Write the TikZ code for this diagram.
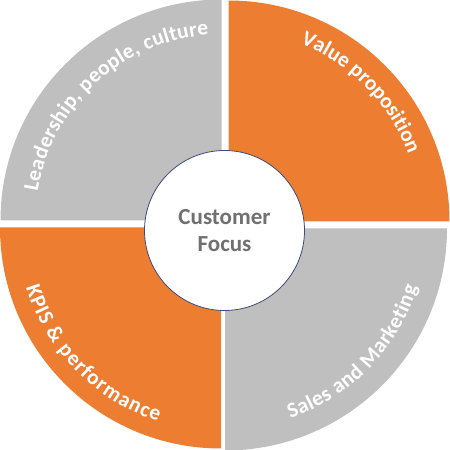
\documentclass[tikz,border=0pt]{standalone}
\usepackage{fontspec}
\setmainfont{Carlito}
\usetikzlibrary{decorations.text}
\definecolor{secorange}{RGB}{237,125,49}
\definecolor{secgray}{RGB}{191,191,191}
\definecolor{focusline}{RGB}{60,75,120}
\definecolor{focustext}{RGB}{112,112,112}
\tikzset{
  orangesec/.style={fill=secorange},
  graysec/.style={fill=secgray},
  arclabel/.style={decorate, decoration={text along path, text align={fit to path},
     text={|\fontsize{21.5}{25}\selectfont\bfseries\color{white}|#1}}},
  focusnode/.style={circle, draw=focusline, line width=0.8pt, fill=white,
     minimum size=160pt, inner sep=0pt, align=center, text=focustext,
     font=\fontsize{23}{27}\selectfont\bfseries}
}
\begin{document}
\begin{tikzpicture}[x=1pt,y=1pt]
\useasboundingbox (0,0) rectangle (450,450);
% top-left
\begin{scope}[shift={(221.5,229.5)}]
  \fill[graysec] (-221,0) arc[start angle=180,end angle=90,radius=221pt] -- (0,0) -- cycle;
  \path[arclabel={Leadership, people, culture}] (171:186pt) arc[start angle=171,end angle=94,radius=186pt];
\end{scope}
% top-right
\begin{scope}[shift={(228.5,228.5)}]
  \fill[orangesec] (221,0) arc[start angle=0,end angle=90,radius=221pt] -- (0,0) -- cycle;
  \path[arclabel={Value proposition}] (68:192pt) arc[start angle=68,end angle=21,radius=192pt];
\end{scope}
% bottom-left
\begin{scope}[shift={(221,222.5)}]
  \fill[orangesec] (-221,0) arc[start angle=180,end angle=270,radius=221pt] -- (0,0) -- cycle;
  \path[arclabel={KPIS {\&} performance}] (197:204pt) arc[start angle=197,end angle=252,radius=204pt];
\end{scope}
% bottom-right
\begin{scope}[shift={(225,221.5)}]
  \fill[graysec] (222,0) arc[start angle=0,end angle=-90,radius=222pt] -- (0,0) -- cycle;
  \path[arclabel={Sales and Marketing}] (289:201pt) arc[start angle=289,end angle=343,radius=201pt];
\end{scope}
\node[focusnode] (focus) at (224.5,219.5) {Customer\\Focus};
\end{tikzpicture}
\end{document}
